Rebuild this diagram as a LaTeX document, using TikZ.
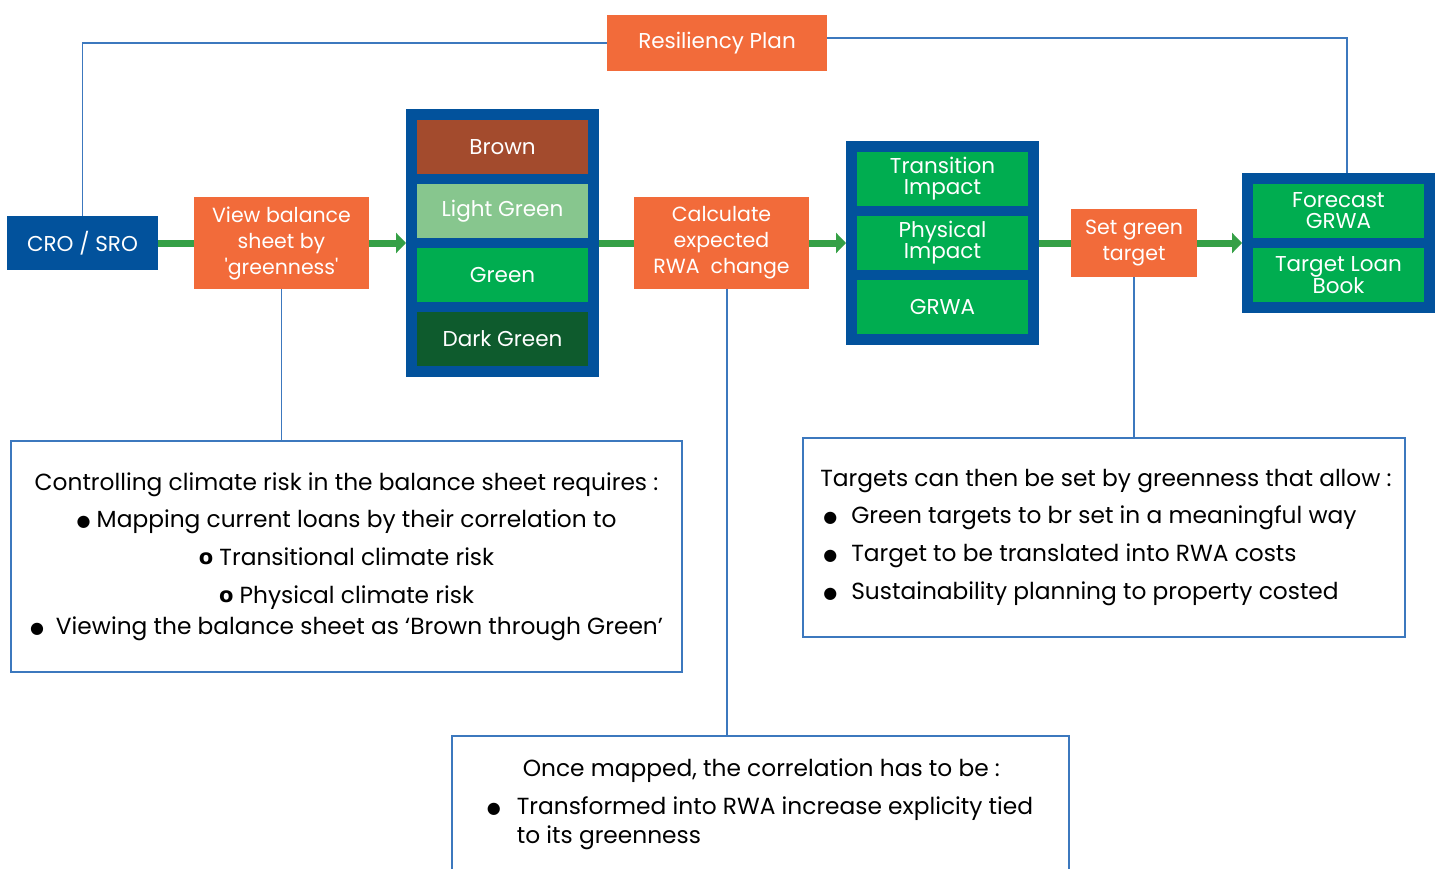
\documentclass[tikz,border=0pt]{standalone}
\usepackage{fontspec}
\setmainfont{Poppins}
\newfontfamily\symfont{DejaVu Sans}
\usetikzlibrary{arrows.meta,positioning,fit,backgrounds}
\definecolor{orng}{HTML}{F26B3A}
\definecolor{deepblue}{HTML}{02529C}
\definecolor{brownc}{HTML}{A34B2D}
\definecolor{lightg}{HTML}{87C68E}
\definecolor{midg}{HTML}{00AD50}
\definecolor{darkg}{HTML}{0E5B2D}
\definecolor{flowgreen}{HTML}{35A046}
\definecolor{linkblue}{HTML}{3C78BE}
\newcommand{\blt}{\raisebox{0.5pt}{\symfont\fontsize{16}{16}\selectfont ●}}
\newcommand{\rng}{\raisebox{0.5pt}{\symfont\bfseries\fontsize{21}{21}\selectfont o}}

\begin{document}
\begin{tikzpicture}[
  x=1pt, y=-1pt,
  font=\fontsize{20.5}{26}\selectfont,
  stage/.style={fill=orng, text=white, align=center, inner sep=0pt, outer sep=0pt,
                minimum width=175pt, minimum height=91pt},
  role/.style={fill=deepblue, text=white, align=center, inner sep=0pt, outer sep=0pt,
               minimum width=151pt, minimum height=54pt, font=\fontsize{21.5}{26}\selectfont},
  cell/.style={text=white, align=center, inner sep=0pt, outer sep=0pt,
               minimum width=171pt, minimum height=54pt, font=\fontsize{21.5}{21}\selectfont},
  group/.style={fill=deepblue, inner sep=11pt, outer sep=0pt},
  flow/.style={draw=flowgreen, line width=7pt},
  flowarrow/.style={flow, -{Triangle[length=10pt, width=20pt]}},
  link/.style={draw=linkblue, line width=1.5pt},
  note/.style={draw=linkblue, line width=2pt, fill=white, inner sep=0pt,
               font=\fontsize{23.3}{37}\selectfont}
]
\useasboundingbox (0,0) rectangle (1442,869);
\clip (0,0) rectangle (1442,869);
\begin{scope}[on background layer]
\fill[white] (0,0) rectangle (1442,869);
\end{scope}

% Row 1 -- the flow from owner to targets
\node[role] (cro) at (82.5,243) {CRO / SRO};
\node[stage, right=36pt of cro] (view) {View balance\\sheet by\\\textquotesingle greenness\textquotesingle};

\node[cell, fill=brownc] (brown) at (502.5,147) {Brown};
\node[cell, fill=lightg, below=10pt of brown] (lightgreen) {Light Green};
\node[cell, fill=midg, below=10pt of lightgreen] (green) {Green};
\node[cell, fill=darkg, below=10pt of green] (darkgreen) {Dark Green};

\node[cell, fill=midg] (transition) at (942.5,179) {Transition\\Impact};
\node[cell, fill=midg, below=10pt of transition] (physical) {Physical\\Impact};
\node[cell, fill=midg, below=10pt of physical] (grwa) {GRWA};

\node[cell, fill=midg] (forecast) at (1338.5,211) {Forecast\\GRWA};
\node[cell, fill=midg, below=10pt of forecast] (loanbook) {Target Loan\\Book};

\begin{scope}[on background layer]
\node[group, fit=(brown)(darkgreen)] (tiers) {};
\node[group, fit=(transition)(grwa)] (impacts) {};
\node[group, fit=(forecast)(loanbook)] (outcomes) {};
\end{scope}

\node[stage, right=35pt of tiers] (calc) {Calculate\\expected\\RWA~ change};
\node[stage, right=32pt of impacts, minimum width=126pt, minimum height=68pt] (set) {Set green\\target};

% Row 0 -- the plan on top
\node[stage, minimum width=220pt, minimum height=56pt, font=\fontsize{21.5}{26}\selectfont] (res) at (717,43) {Resiliency Plan};

% Notes below
\node[note, align=center, minimum width=671pt, minimum height=231pt] (balance) at (346.5,556.5)
  {Controlling climate risk in the balance sheet requires :\\
   \blt\ Mapping current loans by their correlation to\\[1pt]
   \rng\ Transitional climate risk\\[1pt]
   \rng\ Physical climate risk\\[-6pt]
   \blt\hspace{12pt}Viewing the balance sheet as ‘Brown through Green’};
\node[note, align=left, minimum width=602pt, minimum height=199pt] (targets) at (1104,537.5)
  {\hspace*{4pt}Targets can then be set by greenness that allow :\\
   \hspace*{7pt}\blt\hspace{14pt}Green targets to br set in a meaningful way\\[1pt]
   \hspace*{7pt}\blt\hspace{14pt}Target to be translated into RWA costs\\[1pt]
   \hspace*{7pt}\blt\hspace{14pt}Sustainability planning to property costed};
\node[note, align=left, minimum width=617pt, minimum height=136pt,
      font=\fontsize{23.3}{29}\selectfont] (mapped) at (760,804)
  {\hspace*{36pt}Once mapped, the correlation has to be :\\[9pt]
   \blt\hspace{16pt}Transformed into RWA increase explicity tied\\
   \phantom{\blt\hspace{16pt}}to its greenness};

\draw[flow] (cro) -- (view);
\draw[flowarrow] (view) -- (tiers);
\draw[flow] (tiers) -- (calc);
\draw[flowarrow] (calc) -- (impacts);
\draw[flow] (impacts) -- (set);
\draw[flowarrow] (set) -- (outcomes);

\draw[link] (cro.north) |- (res.west);
\draw[link] ([yshift=5pt]res.east) -| ([xshift=8.5pt]outcomes.north);
\draw[link] (view.south) -- (view.south |- balance.north);
\draw[link] ([xshift=5.5pt]calc.south) -- ([xshift=5.5pt]calc.south |- mapped.north);
\draw[link] (set.south) -- (set.south |- targets.north);

\end{tikzpicture}
\end{document}
